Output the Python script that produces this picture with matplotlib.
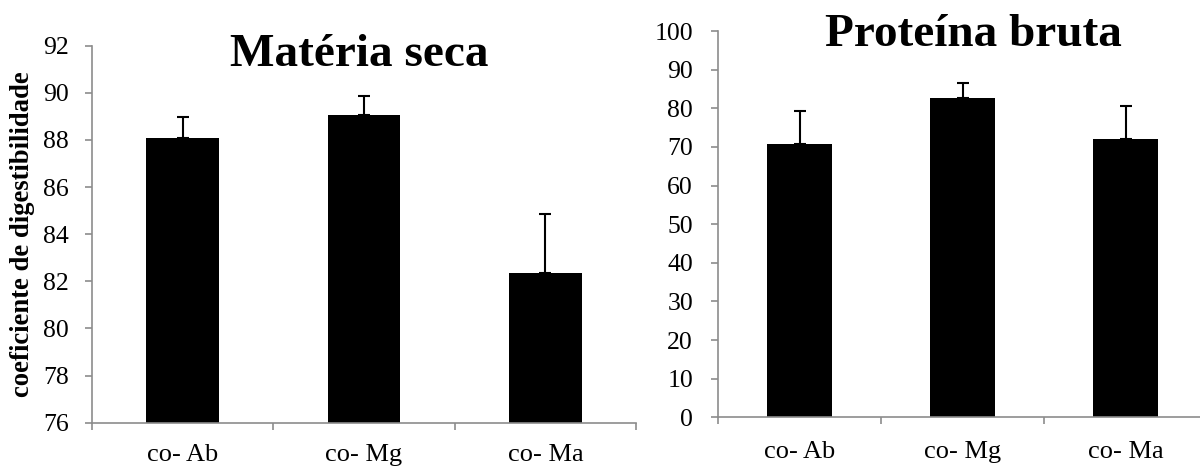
import matplotlib
matplotlib.use("Agg")
import matplotlib.pyplot as plt
import numpy as np

plt.rcParams['font.family'] = ['Liberation Serif', 'DejaVu Serif']

categories = ["co- Ab", "co- Mg", "co- Ma"]
ms_values = [88.08, 89.05, 82.34]
ms_errors = [0.88, 0.80, 2.52]
pb_values = [70.7, 82.6, 72.0]
pb_errors = [8.6, 3.9, 8.7]
ms_ticks = [76, 78, 80, 82, 84, 86, 88, 90, 92]
pb_ticks = [0, 10, 20, 30, 40, 50, 60, 70, 80, 90, 100]

AXC = "#8c8c8c"
FS = 18.5

fig = plt.figure(figsize=(12, 4.68), dpi=100)
ax1 = fig.add_axes([92/1200, 1-422.7/468, (636-92)/1200, (422.7-45.7)/468])
ax2 = fig.add_axes([718/1200, 1-417.3/468, (1207-718)/1200, (417.3-31)/468])

def style(ax, vals, errs, ticks, ypad, xpad):
    x = np.arange(len(vals)) + 0.5
    lo = ticks[0]
    ax.bar(x, np.array(vals) - lo, bottom=lo, width=0.40, color="black", zorder=2)
    ax.errorbar(x, vals, yerr=[np.zeros(len(vals)), errs], fmt="none",
                ecolor="black", elinewidth=1.5, capsize=4.6, capthick=1.5, zorder=3)
    ax.set_xlim(0, len(vals))
    ax.set_ylim(ticks[0], ticks[-1])
    ax.set_yticks(ticks)
    ax.set_yticklabels([str(t) for t in ticks], fontsize=FS)
    ax.set_xticks(np.arange(len(vals) + 1))
    ax.set_xticklabels([])
    ax.set_xticks(x, minor=True)
    ax.set_xticklabels(categories, minor=True, fontsize=19)
    ax.tick_params(axis="x", which="minor", length=0, pad=xpad)
    ax.tick_params(axis="x", which="major", length=5, width=1.2, color=AXC, direction="out")
    ax.tick_params(axis="y", length=5, width=1.2, color=AXC, direction="out", pad=ypad)
    for s in ["top", "right"]:
        ax.spines[s].set_visible(False)
    for s in ["left", "bottom"]:
        ax.spines[s].set_color(AXC)
        ax.spines[s].set_linewidth(1.2)
    ax.spines["bottom"].set_zorder(4)
    ax.patch.set_alpha(0)

style(ax1, ms_values, ms_errors, ms_ticks, ypad=11.5, xpad=15)
style(ax2, pb_values, pb_errors, pb_ticks, ypad=13, xpad=17)

fig.text(359/1200, 1-66/468, "Matéria seca", ha="center", va="baseline",
         fontsize=34, fontweight="bold")
fig.text(973/1200, 1-46/468, "Proteína bruta", ha="center", va="baseline",
         fontsize=34, fontweight="bold")
fig.text(23/1200, 1-234.5/468, "coeficiente de digestibilidade", rotation=90,
         ha="center", va="center", fontsize=19.2, fontweight="bold")

fig.savefig("out.png", dpi=100)
